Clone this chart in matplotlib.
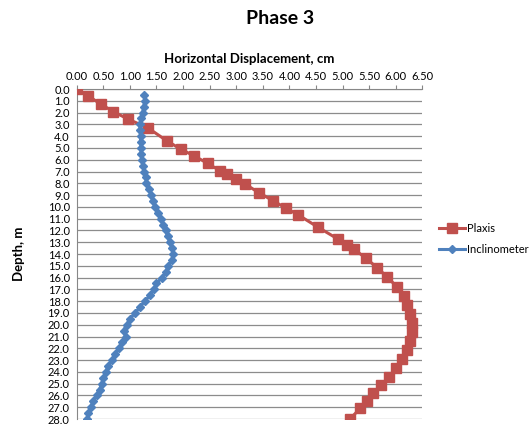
import matplotlib.pyplot as plt
import numpy as np

# Plaxis prediction (depth in m, displacement in cm)
plaxis_depth = [0.0, 0.6, 1.27, 1.92, 2.54, 3.33, 4.41, 5.11, 5.68, 6.30, 6.95, 7.25,
                7.62, 8.08, 8.80, 9.50, 10.12, 10.69, 11.73, 12.75, 13.23, 13.60,
                14.36, 15.16, 15.95, 16.77, 17.56, 18.35, 19.12, 19.87, 20.62, 21.40,
                22.15, 22.95, 23.70, 24.40, 25.15, 25.80, 26.45, 27.10, 28.0]
plaxis_disp = [0.00, 0.22, 0.45, 0.69, 0.96, 1.35, 1.70, 1.96, 2.21, 2.46, 2.70, 2.83,
               3.00, 3.17, 3.43, 3.70, 3.94, 4.17, 4.54, 4.92, 5.08, 5.22,
               5.44, 5.65, 5.84, 6.02, 6.16, 6.22, 6.27, 6.30, 6.30, 6.27,
               6.21, 6.11, 6.00, 5.88, 5.72, 5.58, 5.46, 5.33, 5.14]

# Inclinometer readings every 0.5 m
incl_depth = [0.5, 1.0, 1.5, 2.0, 2.5, 3.0, 3.5, 4.0, 4.5, 5.0, 5.5, 6.0, 6.5, 7.0,
              7.5, 8.0, 8.5, 9.0, 9.5, 10.0, 10.5, 11.0, 11.5, 12.0, 12.5, 13.0, 13.5,
              14.0, 14.5, 15.0, 15.5, 16.0, 16.5, 17.0, 17.5, 18.0, 18.5, 19.0, 19.5,
              20.0, 20.5, 21.0, 21.5, 22.0, 22.5, 23.0, 23.5, 24.0, 24.5, 25.0, 25.5,
              26.0, 26.5, 27.0, 27.5, 28.0]
incl_disp = [1.27, 1.28, 1.26, 1.24, 1.21, 1.19, 1.19, 1.20, 1.20, 1.21, 1.21, 1.22,
             1.24, 1.27, 1.30, 1.31, 1.36, 1.40, 1.43, 1.47, 1.53, 1.58, 1.63, 1.67,
             1.71, 1.75, 1.79, 1.81, 1.79, 1.72, 1.68, 1.60, 1.50, 1.46, 1.38, 1.28,
             1.19, 1.10, 1.00, 0.94, 0.88, 0.92, 0.85, 0.80, 0.72, 0.66, 0.59, 0.55,
             0.50, 0.47, 0.43, 0.38, 0.31, 0.26, 0.22, 0.19]

x_ticks = np.arange(0, 6.51, 0.5)
y_ticks = np.arange(0, 28.1, 1.0)

plt.rcParams['font.family'] = ['Lato', 'DejaVu Sans']

fig = plt.figure(figsize=(5.32, 4.28), dpi=100)
ax = fig.add_axes([0.1442, 0.021, 0.6496, 0.771])

ax.plot(plaxis_disp, plaxis_depth, color='#C0504D', lw=2.2, marker='s',
        markersize=6.5, label='Plaxis', zorder=3)
ax.plot(incl_disp, incl_depth, color='#4F81BD', lw=2.2, marker='D',
        markersize=4, label='Inclinometer', zorder=4)

ax.set_xlim(0, 6.5)
ax.set_ylim(28, 0)
ax.xaxis.tick_top()
ax.xaxis.set_label_position('top')
ax.set_xticks(x_ticks)
ax.set_xticklabels([f'{v:.2f}' for v in x_ticks])
ax.set_yticks(y_ticks)
ax.set_yticklabels([f'{v:.1f}' for v in y_ticks])
ax.tick_params(axis='x', labelsize=8, length=3, color='#878787', pad=2)
ax.tick_params(axis='y', labelsize=8, length=0, pad=5)

ax.grid(axis='y', color='#8C8C8C', lw=0.9)
ax.set_axisbelow(True)
for side in ['right', 'bottom']:
    ax.spines[side].set_visible(False)
for side in ['top', 'left']:
    ax.spines[side].set_color('#878787')

ax.set_xlabel('Horizontal Displacement, cm', fontsize=9.5, fontweight='bold', labelpad=6)
ax.set_ylabel('Depth, m', fontsize=9.5, fontweight='bold', labelpad=16)

fig.text(0.527, 0.957, 'Phase 3', fontsize=14, fontweight='bold', ha='center', va='center')

ax.legend(loc='center left', bbox_to_anchor=(1.02, 0.545), frameon=False,
          fontsize=8, handlelength=2.3, handletextpad=0.2, labelspacing=0.9)

fig.savefig('out.png', dpi=100)
